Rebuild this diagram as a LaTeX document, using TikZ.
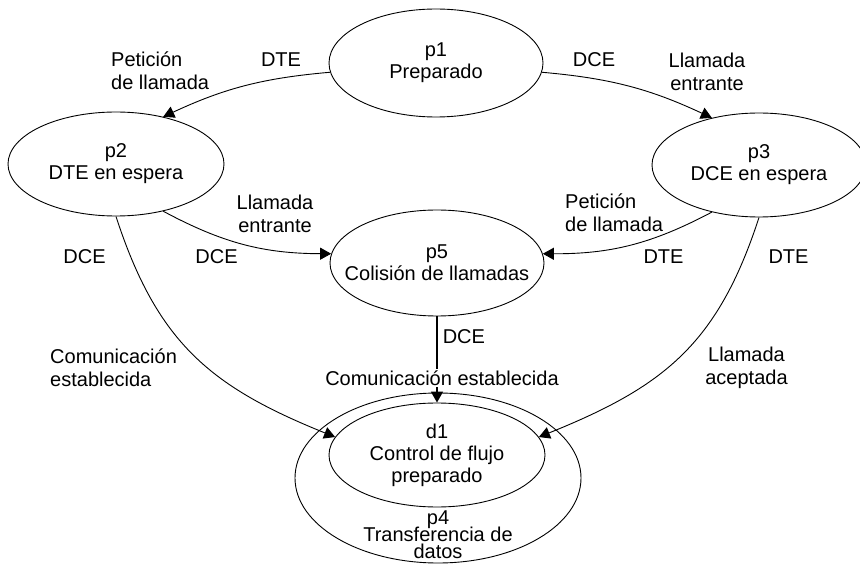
\documentclass[tikz,border=0pt]{standalone}
\usepackage{fontspec}
\setmainfont{Liberation Sans}
\usetikzlibrary{shapes.geometric, arrows.meta, positioning}
\newcommand{\apretado}{\fontsize{20}{17}\selectfont\lineskiplimit=-100pt\relax}

\begin{document}
\begin{tikzpicture}[x=1pt, y=1pt,
  font=\fontsize{20}{22}\selectfont,
  estado/.style={draw, ellipse, line width=0.9pt, minimum width=214pt, minimum height=106pt, inner sep=0pt},
  txt/.style={align=center, inner sep=0pt},
  etiq/.style={align=left, inner sep=0pt, font=\fontsize{20}{23}\selectfont},
  flecha/.style={line width=0.9pt, -{Triangle[length=11pt,width=12pt]}}]
\useasboundingbox (0,0) rectangle (860,-564);
% estados
\node[estado, minimum height=108pt, label={[txt]center:{p1\\Preparado}}] (p1) at (436,-63) {};
\node[estado, minimum width=216pt, minimum height=104pt, label={[txt]center:{p2\\DTE en espera}}] (p2) at (116,-164) {};
\node[estado, minimum height=104pt, label={[txt]center:{p3\\DCE en espera}}] (p3) at (759,-165) {};
\node[estado, label={[txt]center:{p5\\Colisión de llamadas}}] (p5) at (437,-263) {};
\node[estado, minimum width=286pt, minimum height=170pt] (p4) at (438,-478) {};
\node[estado, minimum width=216pt, minimum height=104pt, label={[txt]center:{d1\\Control de flujo\\preparado}}] (d1) at (437,-455) {};
\node[txt, font=\apretado] (p4txt) at (438,-535) {p4\\Transferencia de\\datos};
% transiciones
\draw[flecha] (p1.185) to[bend right=10] (p2.45);
\draw[flecha] (p1.-5) to[bend left=10] (p3.135);
\draw[flecha] (p2.-45) to[bend right=14] (p5.175);
\draw[flecha] (p3.-135) to[bend left=14] (p5.5);
\draw[flecha] (p2.south) to[out=-72, in=158, looseness=1.1] (d1.170);
\draw[flecha] (p3.south) to[out=-108, in=22, looseness=1.1] (d1.10);
\draw[flecha, line width=1.6pt] (p5.south) -- (d1.north)
  node[pos=0.24, right=5pt, inner sep=0pt] (dceC) {DCE}
  node[pos=0.713, fill=white, inner sep=1.5pt, xshift=5pt] (comC) {Comunicación establecida};
% etiquetas
\node[etiq, anchor=west] (petA) at (111,-71) {Petición\\de llamada};
\node[etiq] (dteA) at (281,-60) {DTE};
\node[etiq] (dceA) at (594,-60) {DCE};
\node[etiq, align=center] (llamA) at (707,-71.5) {Llamada\\entrante};
\node[etiq, align=center] (llamB) at (275,-213.5) {Llamada\\entrante};
\node[etiq, anchor=west] (petB) at (565,-213) {Petición\\de llamada};
\node[etiq] (dceB) at (84.5,-257) {DCE};
\node[etiq] (dceD) at (216.5,-257) {DCE};
\node[etiq] (dteB) at (663.5,-257) {DTE};
\node[etiq] (dteC) at (788.5,-257) {DTE};
\node[etiq, anchor=west] (comA) at (50,-368) {Comunicación\\establecida};
\node[etiq, align=center] (llamC) at (746.5,-367.5) {Llamada\\aceptada};
\end{tikzpicture}
\end{document}
